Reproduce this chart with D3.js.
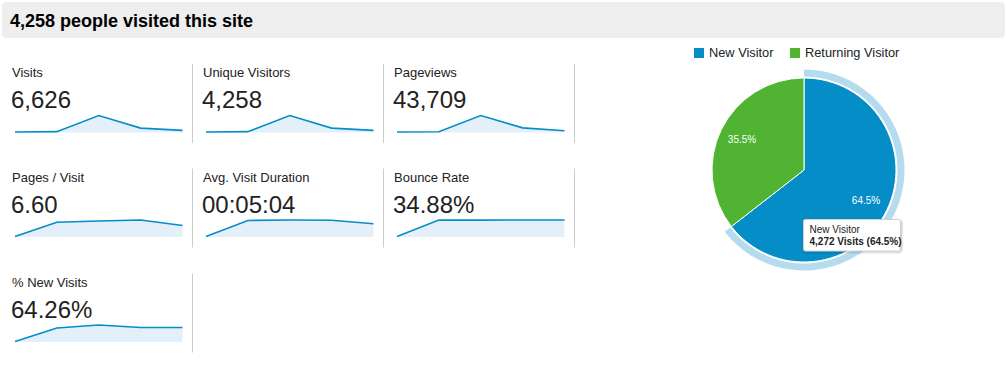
<!DOCTYPE html>
<html><head><meta charset="utf-8">
<script src="https://cdn.jsdelivr.net/npm/d3@7"></script>
<style>
html,body{margin:0;padding:0;background:#fff;}
svg{display:block;font-family:Arial,"Liberation Sans",sans-serif;}
</style></head>
<body><svg id="chart" width="1007" height="366"></svg>
<script>
const title = "4,258 people visited this site";
const metricLabels = ["Visits","Unique Visitors","Pageviews","Pages / Visit","Avg. Visit Duration","Bounce Rate","% New Visits"];
const metricValues = ["6,626","4,258","43,709","6.60","00:05:04","34.88%","64.26%"];
const visits = [250, 330, 4217, 1182, 647];
const uniqueVisitors = [150, 202, 2739, 758, 409];
const pageviews = [1500, 1983, 28321, 8205, 3540];
const pagesPerVisit = [2.0, 6.5, 6.9, 7.2, 5.46];
const avgDuration = [60, 322, 330, 327, 268];
const bounceRate = [20.0, 35.55, 35.5, 35.55, 35.58];
const newVisits = [40, 64.6, 70, 65.5, 65.5];
const pieCategories = ["New Visitor","Returning Visitor"];
const pieVisits = [4272, 2354];
const pieColors = ["#058dc7","#50b432"];
const tooltipLines = ["New Visitor","4,272 Visits (64.5%)"];

const series = [visits, uniqueVisitors, pageviews, pagesPerVisit, avgDuration, bounceRate, newVisits];
const svg = d3.select("#chart");

// header
svg.append("rect").attr("x",2).attr("y",2).attr("width",1003).attr("height",36).attr("rx",4).attr("fill","#eeeeee");
svg.append("text").attr("x",10).attr("y",27).attr("font-size","18px").attr("font-weight","bold").attr("fill","#000").text(title);

// metric tiles
const colX = [0, 191, 382];
const rowY = [0, 104.5, 209.5];
metricLabels.forEach((lab, i) => {
  const c = i % 3, r = Math.floor(i / 3);
  const g = svg.append("g").attr("transform", `translate(${colX[c]},${rowY[r]})`);
  g.append("line").attr("x1",192.5).attr("x2",192.5).attr("y1",64).attr("y2",143).attr("stroke","#cccccc").attr("stroke-width",1);
  g.append("text").attr("x",12).attr("y",77).attr("font-size","13px").attr("fill","#222").text(lab);
  g.append("text").attr("x",11).attr("y",108).attr("font-size","24px").attr("fill","#222").text(metricValues[i]);
  const data = series[i];
  const x = d3.scaleLinear().domain([0, data.length - 1]).range([15, 182.5]);
  const y = d3.scaleLinear().domain(d3.extent(data)).range([132, 115.5]);
  const area = d3.area().x((d, k) => x(k)).y0(132.5).y1(d => y(d));
  const line = d3.line().x((d, k) => x(k)).y(d => y(d));
  g.append("path").datum(data).attr("d", area).attr("fill","#e3f0fa");
  g.append("path").datum(data).attr("d", line).attr("fill","none").attr("stroke","#058dc7").attr("stroke-width",1.6);
});

// legend
const legX = [694, 790];
pieCategories.forEach((cat, i) => {
  svg.append("rect").attr("x",legX[i]).attr("y",48).attr("width",10).attr("height",10).attr("fill",pieColors[i]);
  svg.append("text").attr("x",legX[i]+15).attr("y",57).attr("font-size","12.8px").attr("fill","#222").text(cat);
});

// pie
const cx = 804, cy = 170, R = 92;
const pg = svg.append("g").attr("transform", `translate(${cx},${cy})`);
const pie = d3.pie().sort(null).value(d => d)(pieVisits);
const arc = d3.arc().innerRadius(0).outerRadius(R);
const ring = d3.arc().innerRadius(R + 1.5).outerRadius(R + 8.5);
pg.append("path").datum(pie[0]).attr("d", ring).attr("fill","#b5dcee");
pg.selectAll("path.slice").data(pie).enter().append("path").attr("class","slice")
  .attr("d", arc).attr("fill", (d, i) => pieColors[i]).attr("stroke","#fff").attr("stroke-width",1);
const total = d3.sum(pieVisits);
const lab = d3.arc().innerRadius(69).outerRadius(69);
pg.selectAll("text.pl").data(pie).enter().append("text").attr("class","pl")
  .attr("transform", d => `translate(${lab.centroid(d)})`).attr("text-anchor","middle").attr("dy","0.35em")
  .attr("font-size","10px").attr("fill","#fff")
  .text(d => (d.value / total * 100).toFixed(1) + "%");

// tooltip
const defs = svg.append("defs");
const f = defs.append("filter").attr("id","sh").attr("x","-20%").attr("y","-20%").attr("width","150%").attr("height","160%");
f.append("feDropShadow").attr("dx",1).attr("dy",1).attr("stdDeviation",1.2).attr("flood-color","#000").attr("flood-opacity",0.25);
svg.append("rect").attr("x",803.5).attr("y",219.5).attr("width",97).attr("height",31.5).attr("rx",2)
  .attr("fill","#fff").attr("stroke","#cfcfcf").attr("filter","url(#sh)");
svg.append("text").attr("x",809.5).attr("y",233).attr("font-size","10px").attr("fill","#222").text(tooltipLines[0]);
svg.append("text").attr("x",809.5).attr("y",245).attr("font-size","10px").attr("font-weight","bold").attr("fill","#222").text(tooltipLines[1]);
</script></body></html>
